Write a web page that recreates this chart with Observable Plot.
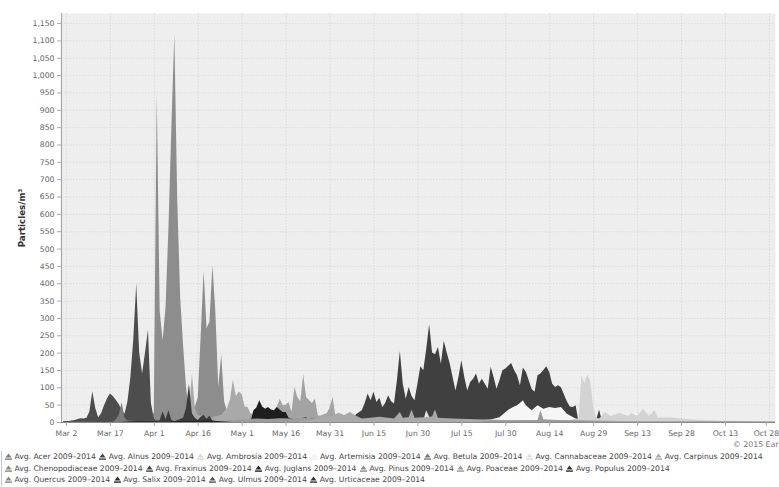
<!DOCTYPE html>
<html><head><meta charset="utf-8">
<script src="https://cdn.jsdelivr.net/npm/d3@7"></script>
<script src="https://cdn.jsdelivr.net/npm/@observablehq/plot@0.6"></script>
<style>
body{margin:0;background:#fff;width:779px;height:487px;overflow:hidden;position:relative;font-family:"DejaVu Sans",sans-serif}
#chart{position:absolute;left:0;top:0}
#chart svg g[aria-label="y-axis label"] text{font-weight:bold;font-size:8.7px;fill:#333}
#credit{position:absolute;left:733px;top:440px;font-size:7.8px;line-height:10px;color:#777;white-space:nowrap}
#legend{position:absolute;left:1px;top:451px;width:776px;border-left:1px solid #c4c4c4;padding-left:3px;font-size:7.65px;color:#444}
.row{white-space:nowrap;height:11.5px;line-height:11.5px}
.item{display:inline-block;margin-right:3.5px}
.item svg{vertical-align:-1px;margin-right:2.5px}
</style></head><body>
<div id="chart"></div><div id="credit">© 2015 Ear</div><div id="legend"></div>
<script>
// ---- data ----
const seriesNames = ["Acer","Alnus","Ambrosia","Artemisia","Betula","Cannabaceae","Carpinus","Chenopodiaceae","Fraxinus","Juglans","Pinus","Poaceae","Populus","Quercus","Salix","Ulmus","Urticaceae"];
const legendRows = [7, 6, 4];
const yTicks = [0,50,100,150,200,250,300,350,400,450,500,550,600,650,700,750,800,850,900,950,1000,1050,1100,1150];
const xTickDates = ["03-02","03-17","04-01","04-16","05-01","05-16","05-31","06-15","06-30","07-15","07-30","08-14","08-29","09-13","09-28","10-13","10-28"];
const xTickLabels = ["Mar 2","Mar 17","Apr 1","Apr 16","May 1","May 16","May 31","Jun 15","Jun 30","Jul 15","Jul 30","Aug 14","Aug 29","Sep 13","Sep 28","Oct 13","Oct 28"];

const acer = [["03-18",0],["03-19",8],["03-20",20],["03-21",57],["03-22",12],["03-23",4],["03-27",3],["04-01",5],["04-05",3],["04-10",0]];
const alnus = [["03-01",2],["03-02",3],["03-03",3],["03-04",4],["03-05",6],["03-06",9],["03-07",11],["03-08",10],["03-09",12],["03-10",30],["03-11",89],["03-12",40],["03-13",14],["03-14",25],["03-15",48],["03-16",68],["03-17",82],["03-18",75],["03-19",64],["03-20",52],["03-21",35],["03-22",24],["03-23",60],["03-24",130],["03-25",240],["03-26",399],["03-27",200],["03-28",140],["03-29",200],["03-30",266],["03-31",55],["04-01",10],["04-02",3]];
const ambrosia = [["08-15",0],["08-20",5],["08-24",10],["08-25",135],["08-26",112],["08-27",137],["08-28",118],["08-29",45],["08-30",12],["08-31",10],["09-01",18],["09-02",29],["09-04",17],["09-07",26],["09-10",17],["09-11",26],["09-13",17],["09-15",38],["09-17",17],["09-19",34],["09-20",13],["09-24",14],["09-28",10],["10-02",7],["10-10",4],["10-20",3],["10-30",2]];
const artemisia = [["07-15",0],["07-20",4],["07-25",7],["07-28",14],["07-31",35],["08-02",45],["08-03",48],["08-04",55],["08-05",63],["08-06",48],["08-08",34],["08-10",48],["08-12",38],["08-14",43],["08-16",40],["08-18",43],["08-20",24],["08-23",10],["08-26",3],["09-05",0]];
const betula = [["03-29",0],["03-31",5],["04-01",30],["04-02",947],["04-03",320],["04-04",236],["04-05",330],["04-06",560],["04-07",850],["04-08",1118],["04-09",640],["04-10",360],["04-11",220],["04-12",100],["04-13",30],["04-14",40],["04-15",45],["04-16",70],["04-17",250],["04-18",437],["04-19",270],["04-20",290],["04-21",452],["04-22",320],["04-23",100],["04-24",195],["04-25",60],["04-26",30],["04-27",20],["04-30",12],["05-05",8],["05-10",4],["05-15",0]];
const cannabaceae = [["06-30",0],["07-02",5],["07-03",34],["07-04",15],["07-05",4],["07-08",0]];
const carpinus = [["04-08",0],["04-10",8],["04-12",12],["04-13",25],["04-14",140],["04-15",40],["04-16",20],["04-20",12],["04-24",20],["04-26",40],["04-27",65],["04-28",122],["04-29",75],["04-30",88],["05-01",80],["05-02",45],["05-03",43],["05-04",25],["05-06",18],["05-10",10],["05-15",5],["05-20",0]];
const chenopodiaceae = [["07-20",0],["07-25",4],["08-05",5],["08-10",6],["08-11",34],["08-12",8],["08-18",5],["08-25",4],["09-05",0]];
const fraxinus = [["04-02",0],["04-03",6],["04-04",30],["04-05",8],["04-06",34],["04-07",6],["04-08",2],["04-11",12],["04-12",40],["04-13",110],["04-14",25],["04-15",12],["04-16",6],["04-17",15],["04-18",20],["04-19",10],["04-20",18],["04-21",4],["04-23",0]];
const juglans = [["05-04",0],["05-05",34],["05-06",42],["05-07",63],["05-08",45],["05-09",38],["05-10",43],["05-11",36],["05-12",34],["05-13",43],["05-14",35],["05-15",29],["05-16",29],["05-17",12],["05-18",10],["05-19",8],["05-20",10],["05-21",10],["05-22",12],["05-23",14],["05-24",6],["05-25",12],["05-26",3],["05-27",0]];
const pinus = [["04-25",0],["04-28",5],["05-02",8],["05-06",10],["05-10",9],["05-14",11],["05-18",10],["05-22",12],["05-26",10],["05-30",8],["06-05",4],["06-10",0]];
const poaceae = [["05-20",0],["05-25",8],["05-28",15],["06-01",18],["06-03",27],["06-05",20],["06-07",29],["06-09",18],["06-11",10],["06-14",12],["06-17",15],["06-20",12],["06-22",10],["06-24",29],["06-25",12],["06-27",14],["06-28",36],["06-29",12],["07-02",14],["07-05",16],["07-06",36],["07-07",12],["07-12",10],["07-20",8],["07-30",6],["08-10",5],["08-20",5],["08-30",4],["09-10",3],["09-30",3],["10-15",3],["10-30",2]];
const populus = [["03-20",0],["03-25",3],["04-01",4],["04-08",2],["04-15",0]];
const quercus = [["05-02",0],["05-04",15],["05-06",22],["05-08",25],["05-10",22],["05-12",30],["05-13",45],["05-14",67],["05-15",48],["05-16",50],["05-17",58],["05-18",29],["05-19",101],["05-20",72],["05-21",60],["05-22",138],["05-23",72],["05-24",63],["05-25",55],["05-26",67],["05-27",19],["05-28",19],["05-29",22],["05-30",25],["05-31",40],["06-01",72],["06-02",19],["06-03",12],["06-06",5],["06-10",0]];
const salix = [["04-05",0],["04-10",3],["04-20",4],["04-28",0]];
const ulmus = [["03-01",0],["03-03",2],["03-06",3],["03-10",2],["03-15",0]];
const urticaceae = [["06-07",0],["06-08",6],["06-09",22],["06-10",28],["06-11",34],["06-12",55],["06-13",82],["06-14",63],["06-15",87],["06-16",58],["06-17",70],["06-18",43],["06-19",55],["06-20",77],["06-21",60],["06-22",53],["06-23",120],["06-24",205],["06-25",110],["06-26",67],["06-27",101],["06-28",75],["06-29",63],["06-30",110],["07-01",161],["07-02",149],["07-03",210],["07-04",282],["07-05",200],["07-06",195],["07-07",216],["07-08",168],["07-09",234],["07-10",200],["07-11",170],["07-12",130],["07-13",91],["07-14",130],["07-15",178],["07-16",130],["07-17",91],["07-18",115],["07-19",125],["07-20",140],["07-21",111],["07-22",125],["07-23",110],["07-24",96],["07-25",159],["07-26",130],["07-27",96],["07-28",120],["07-29",149],["07-30",154],["07-31",162],["08-01",170],["08-02",150],["08-03",135],["08-04",106],["08-05",157],["08-06",145],["08-07",120],["08-08",95],["08-09",87],["08-10",135],["08-11",140],["08-12",150],["08-13",161],["08-14",144],["08-15",110],["08-16",101],["08-17",106],["08-18",100],["08-19",80],["08-20",60],["08-21",45],["08-22",43],["08-23",48],["08-24",0],["08-29",0],["08-30",5],["08-31",36],["09-01",3],["09-02",0]];

// ---- styles ----
const seriesColors = {Acer:"#7c7c7c",Alnus:"#4d4d4d",Ambrosia:"#d3d3d3",Artemisia:"#f6f6f6",Betula:"#8d8d8d",Cannabaceae:"#e6e6e6",Carpinus:"#a9a9a9",Chenopodiaceae:"#9a9a9a",Fraxinus:"#3c3c3c",Juglans:"#1e1e1e",Pinus:"#9c9c9c",Poaceae:"#a9a9a9",Populus:"#333333",Quercus:"#a3a3a3",Salix:"#252525",Ulmus:"#5a5a5a",Urticaceae:"#404040"};
const legendColors = {Acer:"#7a7a7a",Alnus:"#454545",Ambrosia:"#d8d8d8",Artemisia:"#eeeeee",Betula:"#777777",Cannabaceae:"#dddddd",Carpinus:"#aaaaaa",Chenopodiaceae:"#888888",Fraxinus:"#444444",Juglans:"#222222",Pinus:"#8a8a8a",Poaceae:"#999999",Populus:"#333333",Quercus:"#888888",Salix:"#2a2a2a",Ulmus:"#555555",Urticaceae:"#333333"};
const seriesData = {Acer:acer,Alnus:alnus,Ambrosia:ambrosia,Artemisia:artemisia,Betula:betula,Cannabaceae:cannabaceae,Carpinus:carpinus,Chenopodiaceae:chenopodiaceae,Fraxinus:fraxinus,Juglans:juglans,Pinus:pinus,Poaceae:poaceae,Populus:populus,Quercus:quercus,Salix:salix,Ulmus:ulmus,Urticaceae:urticaceae};
const drawOrder = ["Urticaceae","Betula","Alnus","Ulmus","Acer","Populus","Carpinus","Quercus","Juglans","Pinus","Fraxinus","Salix","Artemisia","Ambrosia","Cannabaceae","Poaceae","Chenopodiaceae"];

const toDate = s => new Date(Date.UTC(2014, +s.slice(0,2) - 1, +s.slice(3)));
const xTicks = xTickDates.map(toDate);
const labelMap = new Map(xTicks.map((d, i) => [+d, xTickLabels[i]]));
const xStart = new Date(Date.UTC(2014, 1, 28, 7, 30));
const xEnd = new Date(Date.UTC(2014, 9, 30, 2, 0));

const chart = Plot.plot({
  width: 779, height: 440,
  marginLeft: 61, marginRight: 4, marginTop: 13, marginBottom: 18,
  style: {fontFamily: "DejaVu Sans, sans-serif", fontSize: "7.7px", color: "#666", background: "#fff"},
  x: {type: "utc", domain: [xStart, xEnd]},
  y: {domain: [0, 1179]},
  marks: [
    Plot.frame({fill: "#eeeeee", stroke: null}),
    Plot.gridY(yTicks, {stroke: "#dadada", strokeOpacity: 1, strokeDasharray: "1.5,1.5"}),
    Plot.gridX(xTicks, {stroke: "#dadada", strokeOpacity: 1, strokeDasharray: "1.5,1.5"}),
    ...drawOrder.map(k => Plot.areaY(seriesData[k], {x: d => toDate(d[0]), y: d => d[1], fill: seriesColors[k], fillOpacity: 1, curve: "linear"})),
    Plot.ruleY([0], {stroke: "#8a8a8a", strokeWidth: 1.2}),
    Plot.ruleX([xStart], {stroke: "#a8a8a8", strokeWidth: 1.2}),
    Plot.axisY(yTicks, {tickFormat: d3.format(","), tickSize: 4, tickPadding: 3, stroke: "#aaa", label: "Particles/m³", labelAnchor: "center", labelArrow: "none", labelOffset: 43}),
    Plot.axisX(xTicks.slice(0, -1), {tickFormat: d => labelMap.get(+d), tickSize: 4, tickPadding: 4, stroke: "#aaa", label: null}),
    Plot.axisX(xTicks.slice(-1), {tickFormat: d => labelMap.get(+d), tickSize: 4, tickPadding: 4, stroke: "#aaa", label: null, dx: -3})
  ]
});
document.getElementById("chart").appendChild(chart);

// ---- legend ----
const legend = document.getElementById("legend");
let idx = 0;
for (const n of legendRows) {
  const row = document.createElement("div");
  row.className = "row";
  for (let j = 0; j < n; j++, idx++) {
    const name = seriesNames[idx];
    const item = document.createElement("span");
    item.className = "item";
    const c = legendColors[name];
    item.innerHTML = `<svg width="7" height="7" viewBox="0 0 7 7"><polygon points="0.5,4.6 3.5,0.6 6.5,4.6" fill="${c}"/><rect x="0" y="5.4" width="7" height="1.4" fill="${c}"/></svg>Avg. ${name} 2009–2014`;
    row.appendChild(item);
  }
  legend.appendChild(row);
}
</script></body></html>
